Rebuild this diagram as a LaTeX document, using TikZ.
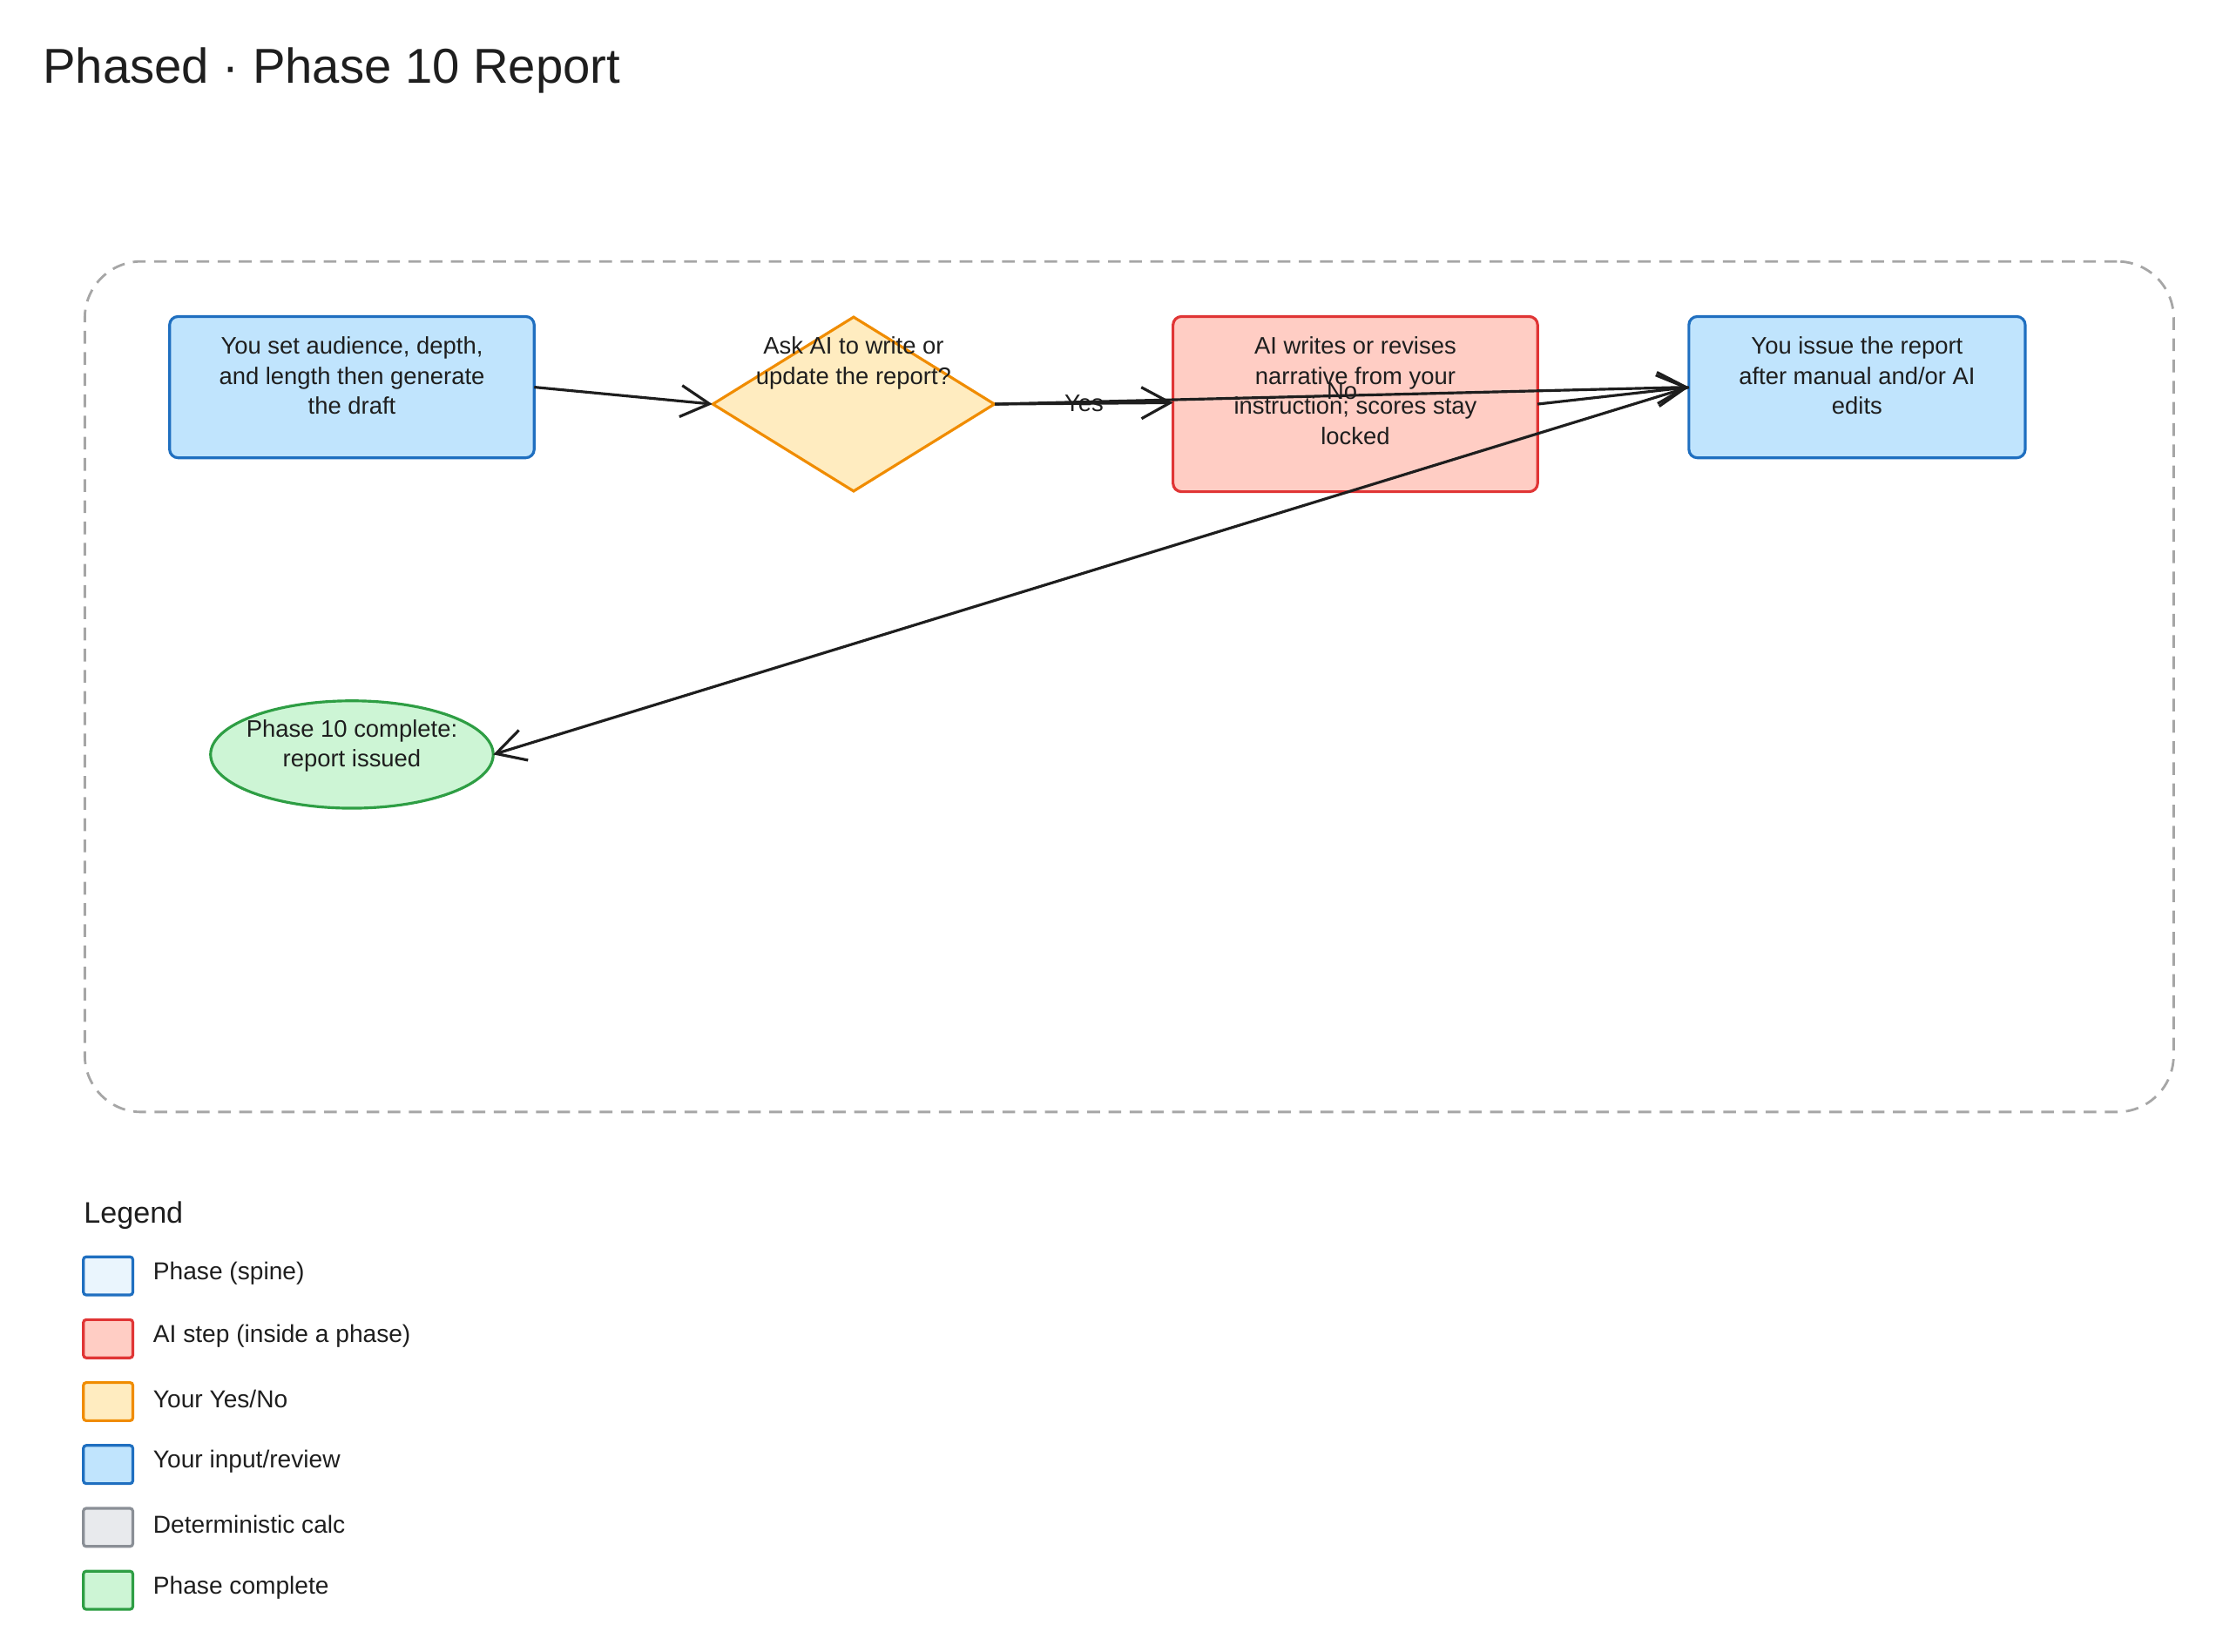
\documentclass[tikz,border=0pt]{standalone}
\usepackage{fontspec}
\setmainfont{Liberation Sans}
\usetikzlibrary{arrows.meta,shapes.geometric}
\newdimen\U \U=0.1622mm
\definecolor{bluef}{HTML}{C0E4FD}\definecolor{blueb}{HTML}{1F6FC0}
\definecolor{spinef}{HTML}{EAF5FD}
\definecolor{redf}{HTML}{FFCDC4}\definecolor{redb}{HTML}{E03535}
\definecolor{orf}{HTML}{FFECC0}\definecolor{orb}{HTML}{F08C00}
\definecolor{grf}{HTML}{E8EAED}\definecolor{grb}{HTML}{8A8F96}
\definecolor{gnf}{HTML}{CDF5D5}\definecolor{gnb}{HTML}{2E9E44}
\definecolor{ink}{HTML}{1E1E1E}
\tikzset{
 box/.style={draw, rectangle, rounded corners=6\U, line width=0.9pt, inner sep=0pt},
 txt/.style={anchor=north, align=center, font=\fontsize{7.8pt}{9.8pt}\selectfont, text=ink, inner sep=0pt},
 edge/.style={draw=ink, line width=0.9pt, -{Straight Barb[length=3.3mm,width=3.6mm]}},
 lab/.style={font=\fontsize{7.8pt}{9.8pt}\selectfont, text=ink, inner sep=0pt},
 leg/.style={draw, rounded corners=2\U, line width=0.9pt, minimum width=35\U, minimum height=27\U, inner sep=0pt},
 legt/.style={anchor=west, font=\fontsize{8pt}{10pt}\selectfont, text=ink, inner sep=0pt}
}
\begin{document}
\begin{tikzpicture}[x=\U,y=-\U]
\useasboundingbox (0,0) rectangle (1568,1168.6);
\node[anchor=west, font=\fontsize{16pt}{20pt}\selectfont, text=ink, inner sep=0pt] (title) at (30,50) {Phased · Phase 10 Report};
\node[draw=black!35, dashed, line width=0.8pt, dash pattern=on 9\U off 6\U, rounded corners=40\U, minimum width=1478\U, minimum height=602\U, inner sep=0pt] (frame) at (799,486) {};
% nodes
\node[box, draw=blueb, fill=bluef, minimum width=258\U, minimum height=100\U] (A) at (249,274) {};
\node[txt] (At) at (249,238) {You set audience, depth,\\and length then generate\\the draft};
\node[diamond, draw=orb, fill=orf, line width=0.9pt, minimum width=200\U, minimum height=124\U, inner sep=0pt, aspect=1.6] (B) at (604,286) {};
\node[txt] (Bt) at (604,238) {Ask AI to write or\\update the report?};
\node[box, draw=redb, fill=redf, minimum width=258\U, minimum height=124\U] (C) at (959,286) {};
\node[txt] (Ct) at (959,238) {AI writes or revises\\narrative from your\\instruction; scores stay\\locked};
\node[box, draw=blueb, fill=bluef, minimum width=238\U, minimum height=100\U] (D) at (1314,274) {};
\node[txt] (Dt) at (1314,238) {You issue the report\\after manual and/or AI\\edits};
\node[ellipse, draw=gnb, fill=gnf, line width=0.9pt, minimum width=200\U, minimum height=76\U, inner sep=0pt] (E) at (249,534) {};
\node[txt] (Et) at (249,509) {Phase 10 complete:\\report issued};
% edges
\coordinate (Bw) at (504,286);\coordinate (Be) at (704,286);
\coordinate (Cw) at (830,285);\coordinate (Ce) at (1088,286);
\coordinate (Dw) at (1195,274);\coordinate (Ae) at (378,274);\coordinate (Ee) at (349,534);
\draw[edge] (Ae) -- (Bw);
\draw[edge] (Be) -- node[lab, pos=0.5] (yes) {Yes} (Cw);
\draw[edge] (Be) -- node[lab, pos=0.5, yshift=3\U] (no) {No} (Dw);
\draw[edge] (Ce) -- (Dw);
\draw[edge] (Dw) -- (Ee);
% legend
\node[anchor=west, font=\fontsize{9.7pt}{12pt}\selectfont, text=ink, inner sep=0pt] (legend) at (59,860) {Legend};
\foreach \i/\f/\b/\t in {0/spinef/blueb/{Phase (spine)},1/redf/redb/{AI step (inside a phase)},2/orf/orb/{Your Yes/No},3/bluef/blueb/{Your input/review},4/grf/grb/{Deterministic calc},5/gnf/gnb/{Phase complete}}{
  \node[leg, fill=\f, draw=\b] (l\i) at (76.5,903+44.5*\i) {};
  \node[legt] (lt\i) at (108,901+44.5*\i) {\t};
}
\end{tikzpicture}
\end{document}
